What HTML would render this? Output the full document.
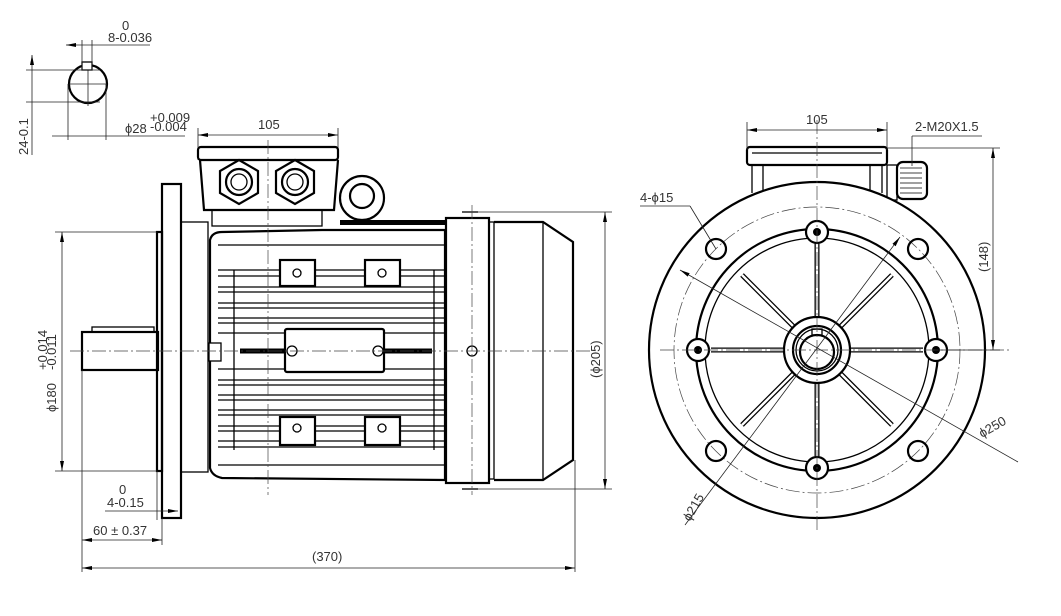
<!DOCTYPE html>
<html><head><meta charset="utf-8"><style>
html,body{margin:0;padding:0;background:#fff}
svg{display:block}
text{font-family:"Liberation Sans Narrow","Liberation Sans",sans-serif;fill:#333;font-size:13px}
.t{stroke:#000;stroke-width:2.2;fill:none}
.m{stroke:#000;stroke-width:1.3;fill:none}
.d{stroke:#222;stroke-width:0.8;fill:none}
.c{stroke:#444;stroke-width:0.7;fill:none;stroke-dasharray:14 3 2 3}
.w{fill:#fff}
</style></head><body>
<svg width="1061" height="616" viewBox="0 0 1061 616" xmlns="http://www.w3.org/2000/svg">
<defs>
<marker id="a" markerWidth="10" markerHeight="6" refX="10" refY="3" orient="auto-start-reverse" markerUnits="userSpaceOnUse"><path d="M0,1 L10,3 L0,5 Z" fill="#000"/></marker>
<pattern id="h" width="5" height="5" patternUnits="userSpaceOnUse" patternTransform="rotate(45)"><line x1="0" y1="0" x2="0" y2="5" stroke="#000" stroke-width="0.8"/></pattern>
</defs>

<!-- shaft section -->
<circle cx="88" cy="84" r="19" fill="url(#h)" class="t"/>
<line x1="69" y1="84" x2="107" y2="84" class="d"/><line x1="88" y1="62" x2="88" y2="106" class="d"/>
<rect x="82" y="62" width="10" height="8" class="m w"/>
<line x1="66" y1="45" x2="150" y2="45" class="d" marker-start="url(#a)"/>
<line x1="82" y1="40" x2="82" y2="70" class="d"/><line x1="92" y1="40" x2="92" y2="70" class="d"/>
<text x="108" y="42">8-0.036</text><text x="122" y="30" font-size="9">0</text>
<line x1="26" y1="70" x2="100" y2="70" class="d"/><line x1="26" y1="102" x2="100" y2="102" class="d"/>
<line x1="32" y1="55" x2="32" y2="155" class="d" marker-start="url(#a)"/>
<line x1="68" y1="84" x2="68" y2="140" class="d"/><line x1="106" y1="84" x2="106" y2="140" class="d"/>
<line x1="52" y1="136" x2="185" y2="136" class="d"/>
<text x="125" y="133">ϕ28</text><text x="150" y="122" font-size="9">+0.009</text><text x="150" y="131" font-size="9">-0.004</text>
<text transform="translate(28,155) rotate(-90)">24-0.1</text>

<!-- dims top-left 105 -->
<line x1="198" y1="135" x2="338" y2="135" class="d" marker-start="url(#a)" marker-end="url(#a)"/>
<line x1="198" y1="128" x2="198" y2="160" class="d"/><line x1="338" y1="128" x2="338" y2="160" class="d"/>
<text x="258" y="129">105</text>

<!-- shaft -->
<rect x="82" y="332" width="76" height="38" class="t"/>
<rect x="92" y="327" width="62" height="5" class="m"/>
<rect x="157" y="232" width="5" height="239" class="t"/>
<!-- flange -->
<rect x="162" y="184" width="19" height="334" class="t"/>
<rect x="181" y="222" width="27" height="250" class="m"/>
<!-- terminal box -->
<rect x="198" y="147" width="140" height="13" rx="3" class="t"/>
<path d="M200 160 L204 210 L334 210 L338 160" class="t"/>
<rect x="212" y="210" width="110" height="16" class="m"/>
<polygon points="239,160 258,171 258,193 239,204 220,193 220,171" class="t"/>
<polygon points="295,160 314,171 314,193 295,204 276,193 276,171" class="t"/>
<circle cx="239" cy="182" r="13" class="t"/><circle cx="239" cy="182" r="8" class="m"/>
<circle cx="295" cy="182" r="13" class="t"/><circle cx="295" cy="182" r="8" class="m"/>
<!-- lifting eye -->
<circle cx="362" cy="198" r="22" class="t"/><circle cx="362" cy="196" r="12" class="t"/>
<rect x="340" y="220" width="105" height="5" fill="#000"/>
<!-- housing -->
<path d="M210 240 Q212 232 222 232 L322 230 L445 230 L445 480 L222 478 Q212 476 210 468 Z" class="t"/>
<line x1="218" y1="245" x2="445" y2="245" class="m"/>
<line x1="218" y1="465" x2="445" y2="465" class="m"/>
<g class="m">
<line x1="218" y1="270" x2="445" y2="270"/><line x1="218" y1="276" x2="445" y2="276"/>
<line x1="218" y1="287" x2="445" y2="287"/><line x1="218" y1="292" x2="445" y2="292"/>
<line x1="218" y1="303" x2="445" y2="303"/><line x1="218" y1="308" x2="445" y2="308"/>
<line x1="218" y1="318" x2="445" y2="318"/><line x1="218" y1="323" x2="445" y2="323"/>
<line x1="218" y1="333" x2="445" y2="333"/>
<line x1="218" y1="369" x2="445" y2="369"/>
<line x1="218" y1="380" x2="445" y2="380"/><line x1="218" y1="385" x2="445" y2="385"/>
<line x1="218" y1="395" x2="445" y2="395"/><line x1="218" y1="400" x2="445" y2="400"/>
<line x1="218" y1="410" x2="445" y2="410"/><line x1="218" y1="415" x2="445" y2="415"/>
<line x1="218" y1="426" x2="445" y2="426"/><line x1="218" y1="431" x2="445" y2="431"/>
<line x1="218" y1="441" x2="445" y2="441"/><line x1="218" y1="447" x2="445" y2="447"/>
<line x1="234" y1="270" x2="234" y2="450"/><line x1="434" y1="270" x2="434" y2="450"/>
</g>
<rect x="280" y="260" width="35" height="26" class="t w"/><circle cx="297" cy="273" r="4" class="m"/>
<rect x="365" y="260" width="35" height="26" class="t w"/><circle cx="382" cy="273" r="4" class="m"/>
<rect x="280" y="417" width="35" height="28" class="t w"/><circle cx="297" cy="428" r="4" class="m"/>
<rect x="365" y="417" width="35" height="28" class="t w"/><circle cx="382" cy="428" r="4" class="m"/>
<rect x="285" y="329" width="99" height="43" rx="2" class="t w"/>
<line x1="240" y1="351" x2="285" y2="351" stroke="#000" stroke-width="5"/>
<line x1="384" y1="351" x2="432" y2="351" stroke="#000" stroke-width="5"/>
<circle cx="292" cy="351" r="5" class="m"/><circle cx="378" cy="351" r="5" class="m"/>
<rect x="209" y="343" width="12" height="18" class="m w"/>
<!-- fan cover -->
<rect x="446" y="218" width="43" height="265" class="t w"/>
<rect x="489" y="222" width="5" height="257" class="m"/>
<path d="M494 222 L543 222 L573 242 L573 460 L543 480 L494 480" class="t"/>
<line x1="543" y1="222" x2="543" y2="480" class="m"/>
<circle cx="472" cy="351" r="5" class="m"/>
<line x1="462" y1="212" x2="478" y2="212" class="m"/><line x1="462" y1="489" x2="478" y2="489" class="m"/>

<!-- center lines left view -->
<line x1="70" y1="351" x2="590" y2="351" class="c"/>
<line x1="268" y1="140" x2="268" y2="495" class="c"/>
<line x1="472" y1="205" x2="472" y2="495" class="c"/>

<!-- left dims -->
<line x1="55" y1="232" x2="157" y2="232" class="d"/><line x1="55" y1="471" x2="157" y2="471" class="d"/>
<line x1="62" y1="232" x2="62" y2="471" class="d" marker-start="url(#a)" marker-end="url(#a)"/>
<text transform="translate(56,412) rotate(-90)">ϕ180</text>
<text transform="translate(47,370) rotate(-90)" font-size="9">+0.014</text>
<text transform="translate(56,370) rotate(-90)" font-size="9">-0.011</text>
<line x1="157" y1="471" x2="157" y2="520" class="d"/>
<line x1="105" y1="511" x2="178" y2="511" class="d" marker-end="url(#a)"/>
<text x="107" y="507">4-0.15</text><text x="119" y="494" font-size="9">0</text>
<line x1="82" y1="370" x2="82" y2="572" class="d"/>
<line x1="162" y1="518" x2="162" y2="545" class="d"/>
<line x1="82" y1="540" x2="162" y2="540" class="d" marker-start="url(#a)" marker-end="url(#a)"/>
<text x="93" y="535">60 ± 0.37</text>
<line x1="575" y1="460" x2="575" y2="572" class="d"/>
<line x1="82" y1="568" x2="575" y2="568" class="d" marker-start="url(#a)" marker-end="url(#a)"/>
<text x="312" y="561">(370)</text>
<line x1="478" y1="212" x2="612" y2="212" class="d"/><line x1="478" y1="489" x2="612" y2="489" class="d"/>
<line x1="605" y1="212" x2="605" y2="489" class="d" marker-start="url(#a)" marker-end="url(#a)"/>
<text transform="translate(600,378) rotate(-90)">(ϕ205)</text>

<!-- right view -->
<rect x="747" y="147" width="140" height="18" rx="3" class="t"/>
<line x1="752" y1="153" x2="882" y2="153" class="m"/>
<line x1="752" y1="165" x2="752" y2="193" class="m"/><line x1="763" y1="165" x2="763" y2="190" class="m"/>
<line x1="882" y1="165" x2="882" y2="193" class="m"/><line x1="870" y1="165" x2="870" y2="190" class="m"/>
<rect x="887" y="165" width="10" height="35" class="m"/>
<rect x="897" y="162" width="30" height="37" rx="6" class="t"/>
<g stroke="#000" stroke-width="0.8"><line x1="900" y1="168" x2="922" y2="168"/><line x1="900" y1="173" x2="922" y2="173"/><line x1="900" y1="178" x2="922" y2="178"/><line x1="900" y1="183" x2="922" y2="183"/><line x1="900" y1="188" x2="922" y2="188"/><line x1="900" y1="193" x2="922" y2="193"/></g>
<circle cx="817" cy="350" r="168" class="t w"/>
<circle cx="817" cy="350" r="143" class="c"/>
<circle cx="817" cy="350" r="121" class="t"/>
<circle cx="817" cy="350" r="112" class="m"/>
<g class="t">
<circle cx="716" cy="249" r="10"/><circle cx="918" cy="249" r="10"/>
<circle cx="716" cy="451" r="10"/><circle cx="918" cy="451" r="10"/>
</g>
<g stroke="#000" stroke-width="5">
<line x1="817" y1="244" x2="817" y2="318"/><line x1="817" y1="382" x2="817" y2="456"/>
<line x1="711" y1="350" x2="785" y2="350"/><line x1="849" y1="350" x2="923" y2="350"/>
<line x1="742" y1="275" x2="794" y2="327"/><line x1="892" y1="275" x2="840" y2="327"/>
<line x1="742" y1="425" x2="794" y2="373"/><line x1="892" y1="425" x2="840" y2="373"/>
</g>
<g stroke="#fff" stroke-width="2.4">
<line x1="817" y1="244" x2="817" y2="318"/><line x1="817" y1="382" x2="817" y2="456"/>
<line x1="711" y1="350" x2="785" y2="350"/><line x1="849" y1="350" x2="923" y2="350"/>
<line x1="742" y1="275" x2="794" y2="327"/><line x1="892" y1="275" x2="840" y2="327"/>
<line x1="742" y1="425" x2="794" y2="373"/><line x1="892" y1="425" x2="840" y2="373"/>
</g>
<g class="t w">
<circle cx="817" cy="232" r="11"/><circle cx="817" cy="468" r="11"/>
<circle cx="698" cy="350" r="11"/><circle cx="936" cy="350" r="11"/>
</g>
<g fill="#000"><circle cx="817" cy="232" r="4"/><circle cx="817" cy="468" r="4"/><circle cx="698" cy="350" r="4"/><circle cx="936" cy="350" r="4"/></g>
<circle cx="817" cy="350" r="33" class="t w"/>
<circle cx="817" cy="350" r="24" class="t"/><circle cx="817" cy="350" r="21" class="m"/>
<circle cx="817" cy="352" r="17" class="t"/>
<rect x="812" y="329" width="10" height="6" class="m"/>
<line x1="660" y1="350" x2="1010" y2="350" class="c"/>
<line x1="817" y1="120" x2="817" y2="530" class="c"/>
<!-- right dims -->
<line x1="747" y1="130" x2="887" y2="130" class="d" marker-start="url(#a)" marker-end="url(#a)"/>
<line x1="747" y1="122" x2="747" y2="150" class="d"/><line x1="887" y1="122" x2="887" y2="150" class="d"/>
<text x="806" y="124">105</text>
<text x="915" y="131">2-M20X1.5</text>
<line x1="912" y1="136" x2="982" y2="136" class="d"/>
<line x1="912" y1="136" x2="912" y2="166" class="d"/>
<line x1="887" y1="148" x2="1000" y2="148" class="d"/>
<line x1="935" y1="350" x2="1000" y2="350" class="d"/>
<line x1="993" y1="148" x2="993" y2="350" class="d" marker-start="url(#a)" marker-end="url(#a)"/>
<text transform="translate(988,272) rotate(-90)">(148)</text>
<text x="640" y="202">4-ϕ15</text>
<line x1="640" y1="206" x2="690" y2="206" class="d"/><line x1="690" y1="206" x2="716" y2="249" class="d"/>
<line x1="680" y1="270" x2="1018" y2="462" class="d" marker-start="url(#a)"/>
<text transform="translate(982,438) rotate(-30)">ϕ250</text>
<line x1="900" y1="237" x2="685" y2="525" class="d" marker-start="url(#a)"/>
<text transform="translate(690,522) rotate(-60)">ϕ215</text>
</svg>
</body></html>
